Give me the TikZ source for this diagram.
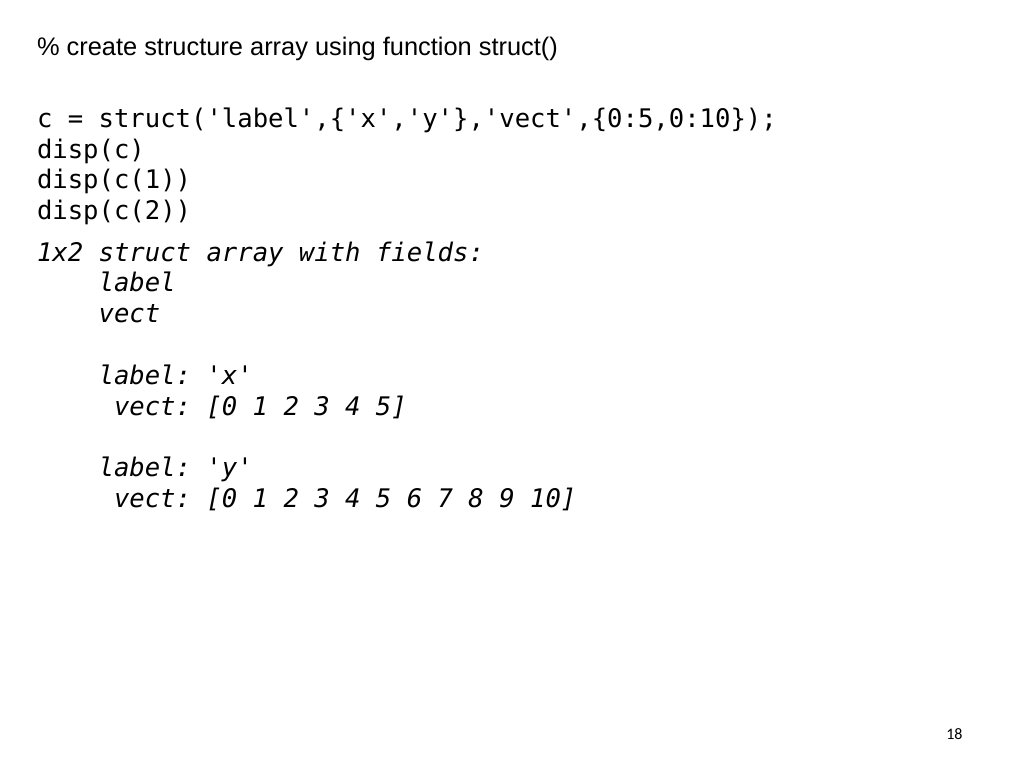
\documentclass[tikz,border=0pt]{standalone}
\usepackage{fontspec}
\setmainfont{Liberation Sans}
\setmonofont{DejaVu Sans Mono}
\newfontfamily\pagefont{Carlito}
\tikzset{
  txt/.style={anchor=base west,inner sep=0pt,outer sep=0pt},
  codeline/.style={txt,font=\fontsize{25.6}{30}\ttfamily},
  outline/.style={txt,font=\fontsize{25.6}{30}\ttfamily\itshape}
}
\begin{document}
\begin{tikzpicture}[x=1pt,y=-1pt]
	\useasboundingbox[fill=white] (0,0) rectangle (1024,768);
	% comment line
	\node[txt,font=\fontsize{25.4}{30}\selectfont] (head) at (37,56) {\% create structure array using function struct()};
	% code
	\node[codeline] (c1) at (37,127.5) {c = struct('label',\{'x','y'\},'vect',\{0:5,0:10\});};
	\node[codeline] (c2) at (37,158.2) {disp(c)};
	\node[codeline] (c3) at (37,188.8) {disp(c(1))};
	\node[codeline] (c4) at (37,219.4) {disp(c(2))};
	% output
	\node[outline] (o1) at (37,261) {1x2 struct array with fields:};
	\node[outline] (o2) at (98.6,291.8) {label};
	\node[outline] (o3) at (98.6,322.6) {vect};
	\node[outline] (o4) at (98.6,384.2) {label: 'x'};
	\node[outline] (o5) at (114,415) {vect: [0 1 2 3 4 5]};
	\node[outline] (o6) at (98.6,476.6) {label: 'y'};
	\node[outline] (o7) at (114,507.4) {vect: [0 1 2 3 4 5 6 7 8 9 10]};
	% page number
	\node[txt,anchor=base east,font=\fontsize{16}{18}\pagefont] (pg) at (962.5,739) {18};
\end{tikzpicture}
\end{document}
